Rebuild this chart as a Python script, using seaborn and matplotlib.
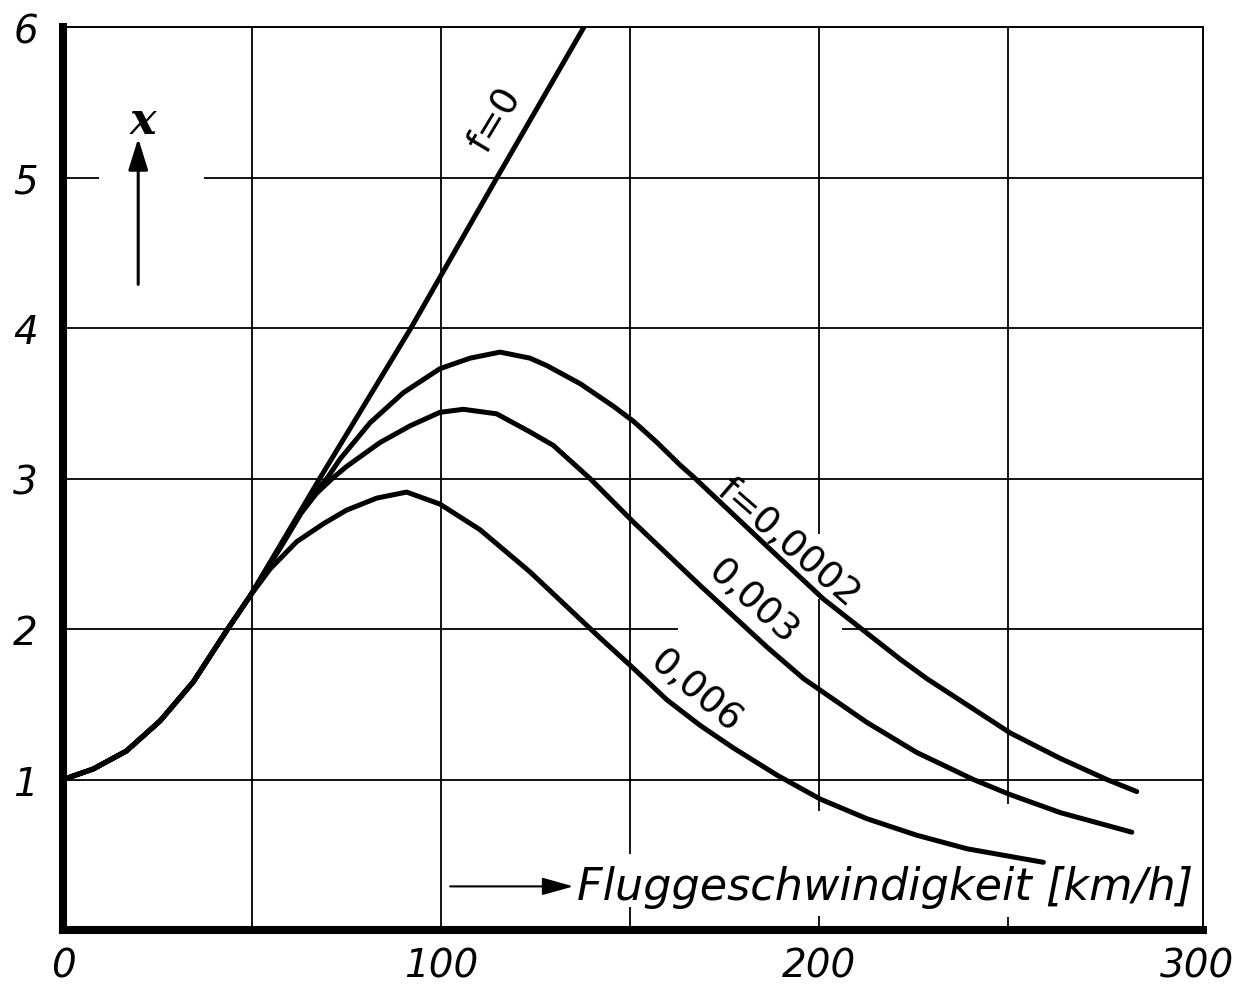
import numpy as np
import pandas as pd
import matplotlib
matplotlib.use("Agg")
import matplotlib.pyplot as plt
import seaborn as sns

# ---- data ----
common_x = [0, 8, 16.8, 25.7, 34.5, 43.3, 49.5]
common_y = [1.0, 1.07, 1.19, 1.39, 1.65, 1.99, 2.22]

f0_x = common_x + [58, 67.9, 91.8, 114.8, 137.8]
f0_y = common_y + [2.58, 3.00, 3.99, 5.00, 6.00]

f0002_x = common_x + [58, 65, 69.8, 73.3, 81.2, 90.0, 99.7, 107.7, 115.6, 123.5, 128, 136.8, 145.6,
                      150.9, 157.1, 163.2, 166.8, 186.2, 201.1, 221.4, 228.5, 250.5, 263.8, 276.1, 284.0]
f0002_y = common_y + [2.57, 2.86, 3.00, 3.13, 3.37, 3.57, 3.73, 3.80, 3.84, 3.80, 3.75, 3.63, 3.48,
                      3.38, 3.24, 3.09, 3.01, 2.55, 2.20, 1.80, 1.67, 1.31, 1.14, 1.00, 0.92]

f0003_x = common_x + [58, 63, 67, 71.2, 75.0, 83.9, 91.8, 99.7, 105.9, 114.7, 119.1, 123.5, 129.7,
                      139.4, 150.9, 168.5, 186.2, 195.9, 212.6, 225.8, 240.8, 250.5, 263.8, 282.7]
f0003_y = common_y + [2.56, 2.77, 2.90, 3.00, 3.08, 3.24, 3.35, 3.44, 3.46, 3.43, 3.37, 3.31, 3.22,
                      3.00, 2.71, 2.29, 1.88, 1.67, 1.38, 1.18, 1.00, 0.90, 0.78, 0.65]

f0006_x = common_x + [54.8, 61.8, 68.9, 75.0, 83.0, 90.9, 99.7, 110.3, 123.5, 142.1, 150.4, 159.7,
                      168.5, 177.3, 188.8, 200.3, 212.6, 225.8, 239.1, 259.3]
f0006_y = common_y + [2.40, 2.58, 2.70, 2.79, 2.87, 2.91, 2.83, 2.66, 2.38, 1.94, 1.75, 1.53,
                      1.36, 1.21, 1.03, 0.87, 0.74, 0.63, 0.54, 0.45]

series_names = ["f=0", "f=0,0002", "0,003", "0,006"]
x_ticks = [0, 100, 200, 300]
y_ticks = [1, 2, 3, 4, 5, 6]
x_label = "Fluggeschwindigkeit [km/h]"
y_label = "x"

# ---- build frame ----
frames = []
for name, xs, ys in zip(series_names, [f0_x, f0002_x, f0003_x, f0006_x],
                        [f0_y, f0002_y, f0003_y, f0006_y]):
    frames.append(pd.DataFrame({"v": xs, "x": ys, "f": name}))
df = pd.concat(frames, ignore_index=True)

sns.set_theme(style="white")
plt.rcParams["font.family"] = ["DejaVu Sans"]
plt.rcParams["text.color"] = "black"

fig = plt.figure(figsize=(12.52, 9.87), dpi=100)
ax = fig.add_axes([0.0503, 0.0567, 0.9105, 0.9149])
ax.set_xlim(0, 301.5)
ax.set_ylim(0, 6)

# grid with hand-drawn gaps: (position, start, end)
grid_kw = dict(color="black", lw=1.3, zorder=1)
v_segments = [(50, 0, 6), (100, 0, 6),
              (150, 0, 0.153), (150, 0.505, 6),
              (200, 0, 0.09), (200, 0.79, 2.20), (200, 2.63, 6),
              (250, 0, 0.086), (250, 0.84, 6)]
h_segments = [(1, 0, 301.5), (2, 0, 162.7), (2, 206, 301.5), (3, 0, 301.5),
              (4, 0, 301.5), (5, 0, 9.5), (5, 37.3, 301.5)]
for p, a, b in v_segments:
    ax.vlines(p, a, b, **grid_kw)
for p, a, b in h_segments:
    ax.hlines(p, a, b, **grid_kw)

sns.lineplot(data=df, x="v", y="x", hue="f", palette=["black"] * 4, legend=False,
             estimator=None, sort=False, lw=3.6, ax=ax, zorder=3)
for ln in ax.lines:
    ln.set_solid_joinstyle("round")
    ln.set_solid_capstyle("round")

for s in ["left", "bottom"]:
    ax.spines[s].set_linewidth(5.8)
    ax.spines[s].set_color("black")
for s in ["top", "right"]:
    ax.spines[s].set_linewidth(1.4)
    ax.spines[s].set_color("black")
ax.spines["left"].set_zorder(5)
ax.spines["bottom"].set_zorder(5)

ax.set_xticks(x_ticks)
ax.set_yticks(y_ticks)
ax.set_xticklabels([str(t) for t in x_ticks], fontsize=28, fontstyle="italic")
ax.set_yticklabels([str(t) for t in y_ticks], fontsize=28, fontstyle="italic")
ax.tick_params(axis="x", length=0, pad=12, labelcolor="black")
ax.tick_params(axis="y", length=0, pad=18, labelcolor="black")
ax.set_xlabel("")
ax.set_ylabel("")
ax.grid(False)

# curve labels
lab_kw = dict(fontsize=27, ha="center", va="center", rotation_mode="anchor", color="black", zorder=4)
ax.text(114.3, 5.39, series_names[0], rotation=59, **lab_kw)
ax.text(191.8, 2.58, series_names[1], rotation=-41, **lab_kw)
ax.text(182.5, 2.18, series_names[2], rotation=-42, **lab_kw)
ax.text(167.2, 1.59, series_names[3], rotation=-40, **lab_kw)

# x axis label with arrow
ax.annotate("", xy=(135.0, 0.29), xytext=(102.4, 0.29),
            arrowprops=dict(arrowstyle="-|>,head_length=1.6,head_width=0.45", color="black", lw=1.5,
                            shrinkA=0, shrinkB=0))
ax.text(136.0, 0.29, x_label, fontsize=32, fontstyle="italic", ha="left", va="center")

# y axis label with arrow
ax.annotate("", xy=(19.9, 5.26), xytext=(19.9, 4.29),
            arrowprops=dict(arrowstyle="-|>,head_length=1.6,head_width=0.5", color="black", lw=2.2,
                            shrinkA=0, shrinkB=0))
ax.text(21.2, 5.38, y_label, fontsize=32, fontstyle="italic", fontweight="bold",
        family=["DejaVu Serif"], ha="center", va="center")

fig.savefig("out.png", dpi=100, facecolor="white")
